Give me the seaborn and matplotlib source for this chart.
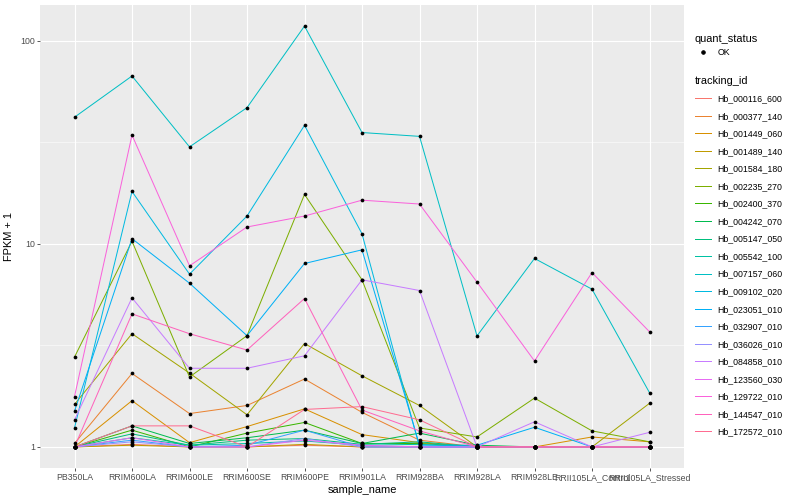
import pandas as pd
import seaborn as sns
import matplotlib.pyplot as plt
from matplotlib.lines import Line2D
from matplotlib.ticker import FixedLocator, NullFormatter

samples = ["PB350LA", "RRIM600LA", "RRIM600LE", "RRIM600SE", "RRIM600PE",
           "RRIM901LA", "RRIM928BA", "RRIM928LA", "RRIM928LE",
           "RRII105LA_Control", "RRII105LA_Stressed"]

tracking_ids = ["Hb_000116_600", "Hb_000377_140", "Hb_001449_060", "Hb_001489_140",
                "Hb_001584_180", "Hb_002235_270", "Hb_002400_370", "Hb_004242_070",
                "Hb_005147_050", "Hb_005542_100", "Hb_007157_060", "Hb_009102_020",
                "Hb_023051_010", "Hb_032907_010", "Hb_036026_010", "Hb_084858_010",
                "Hb_123560_030", "Hb_129722_010", "Hb_144547_010", "Hb_172572_010"]

# FPKM + 1 per gene (same order as samples)
hb_000116_600 = [1.0, 1.03, 1.0, 1.0, 1.02, 1.0, 1.0, 1.0, 1.0, 1.0, 1.0]
hb_000377_140 = [1.04, 2.30, 1.46, 1.60, 2.16, 1.48, 1.08, 1.0, 1.0, 1.0, 1.0]
hb_001449_060 = [1.0, 1.69, 1.05, 1.26, 1.54, 1.15, 1.05, 1.0, 1.0, 1.12, 1.06]
hb_001489_140 = [1.0, 1.02, 1.0, 1.0, 1.03, 1.0, 1.0, 1.0, 1.0, 1.0, 1.0]
hb_001584_180 = [1.62, 3.61, 2.31, 1.44, 3.23, 2.24, 1.60, 1.0, 1.0, 1.0, 1.64]
hb_002235_270 = [2.77, 10.3, 2.21, 3.53, 17.5, 6.65, 1.24, 1.12, 1.74, 1.20, 1.06]
hb_002400_370 = [1.0, 1.21, 1.0, 1.17, 1.32, 1.04, 1.04, 1.0, 1.0, 1.0, 1.0]
hb_004242_070 = [1.0, 1.27, 1.04, 1.11, 1.21, 1.04, 1.17, 1.02, 1.0, 1.0, 1.0]
hb_005147_050 = [1.0, 1.16, 1.02, 1.08, 1.10, 1.03, 1.06, 1.0, 1.0, 1.0, 1.0]
hb_005542_100 = [1.0, 1.11, 1.02, 1.04, 1.07, 1.02, 1.03, 1.0, 1.0, 1.0, 1.0]
hb_007157_060 = [42.0, 67.0, 30.0, 46.8, 118.0, 35.3, 33.8, 3.52, 8.47, 5.98, 1.85]
hb_009102_020 = [1.24, 18.1, 7.09, 13.7, 38.3, 11.2, 1.0, 1.0, 1.0, 1.0, 1.0]
hb_023051_010 = [1.50, 10.6, 6.40, 3.53, 8.0, 9.34, 1.02, 1.02, 1.25, 1.0, 1.0]
hb_032907_010 = [1.0, 1.08, 1.0, 1.02, 1.21, 1.0, 1.0, 1.0, 1.0, 1.0, 1.0]
hb_036026_010 = [1.0, 1.06, 1.0, 1.0, 1.10, 1.0, 1.0, 1.0, 1.0, 1.0, 1.0]
hb_084858_010 = [1.36, 5.42, 2.44, 2.44, 2.81, 6.65, 5.89, 1.0, 1.33, 1.0, 1.18]
hb_123560_030 = [1.0, 1.11, 1.0, 1.0, 1.08, 1.02, 1.0, 1.0, 1.0, 1.0, 1.0]
hb_129722_010 = [1.77, 34.3, 7.79, 12.1, 13.7, 16.4, 15.7, 6.48, 2.65, 7.22, 3.69]
hb_144547_010 = [1.0, 4.52, 3.61, 3.0, 5.38, 1.52, 1.20, 1.0, 1.0, 1.0, 1.0]
hb_172572_010 = [1.0, 1.27, 1.27, 1.0, 1.53, 1.58, 1.36, 1.0, 1.0, 1.0, 1.0]

series = [hb_000116_600, hb_000377_140, hb_001449_060, hb_001489_140, hb_001584_180,
          hb_002235_270, hb_002400_370, hb_004242_070, hb_005147_050, hb_005542_100,
          hb_007157_060, hb_009102_020, hb_023051_010, hb_032907_010, hb_036026_010,
          hb_084858_010, hb_123560_030, hb_129722_010, hb_144547_010, hb_172572_010]

# ggplot default hue palette for 20 levels
colors = ["#F8766D", "#EA8331", "#D89000", "#C09B00", "#A3A500", "#7CAE00", "#39B600",
          "#00BB4E", "#00BF7D", "#00C1A3", "#00BFC4", "#00BAE0", "#00B0F6", "#35A2FF",
          "#9590FF", "#C77CFF", "#E76BF3", "#FA62DB", "#FF62BC", "#FF6C91"]

rows = []
for tid, vals in zip(tracking_ids, series):
    for s, v in zip(samples, vals):
        rows.append({"tracking_id": tid, "sample_name": s, "fpkm": v, "quant_status": "OK"})
df = pd.DataFrame(rows)

plt.rcParams['font.family'] = ['Liberation Sans', 'DejaVu Sans']

fig = plt.figure(figsize=(800 / 72, 500 / 72), dpi=72)
ax = fig.add_axes([40 / 800, 1 - 468 / 500, 644 / 800, 463 / 500])
ax.set_facecolor("#EBEBEB")

sns.lineplot(data=df, x="sample_name", y="fpkm", hue="tracking_id", hue_order=tracking_ids,
             palette=colors, units="tracking_id", estimator=None, sort=False,
             linewidth=1.0, legend=False, ax=ax)
sns.scatterplot(data=df, x="sample_name", y="fpkm", color="black", s=14, linewidth=0,
                legend=False, ax=ax, zorder=5)

ax.set_yscale("log")
ax.set_ylim(10 ** -0.1036, 10 ** 2.1756)
ax.set_xlim(-0.6, len(samples) - 0.4)
ax.yaxis.set_major_locator(FixedLocator([1, 10, 100]))
ax.set_yticklabels(["1", "10", "100"])
ax.yaxis.set_minor_locator(FixedLocator([10 ** 0.5, 10 ** 1.5]))
ax.yaxis.set_minor_formatter(NullFormatter())

ax.grid(True, which="major", color="white", linewidth=1.1)
ax.grid(True, which="minor", axis="y", color="white", linewidth=0.55)
ax.set_axisbelow(True)
for sp in ax.spines.values():
    sp.set_visible(False)
ax.tick_params(which="major", length=3, color="#333333", labelcolor="#4D4D4D",
               labelsize=8.8, pad=2)
ax.tick_params(which="minor", length=0)
ax.set_xlabel("sample_name", fontsize=11, labelpad=3)
ax.set_ylabel("FPKM + 1", fontsize=11, labelpad=6)

leg1 = ax.legend(handles=[Line2D([], [], marker="o", color="black", linestyle="None",
                                 markersize=3.5)],
                 labels=["OK"], title="quant_status", loc="upper left",
                 bbox_to_anchor=(693 / 800, 1 - 32 / 500), bbox_transform=fig.transFigure,
                 frameon=False, fontsize=8.8, title_fontsize=11, alignment="left",
                 handlelength=1.8, handletextpad=0.8, borderaxespad=0, borderpad=0.2)
ax.add_artist(leg1)
ax.legend(handles=[Line2D([], [], color=c, lw=1.0) for c in colors], labels=tracking_ids,
          title="tracking_id", loc="upper left",
          bbox_to_anchor=(693 / 800, 1 - 74 / 500), bbox_transform=fig.transFigure,
          frameon=False, fontsize=8.8, title_fontsize=11, alignment="left",
          handlelength=1.8, handletextpad=0.8, labelspacing=0.97, borderaxespad=0,
          borderpad=0.2)

fig.savefig("out.png", dpi=72)
